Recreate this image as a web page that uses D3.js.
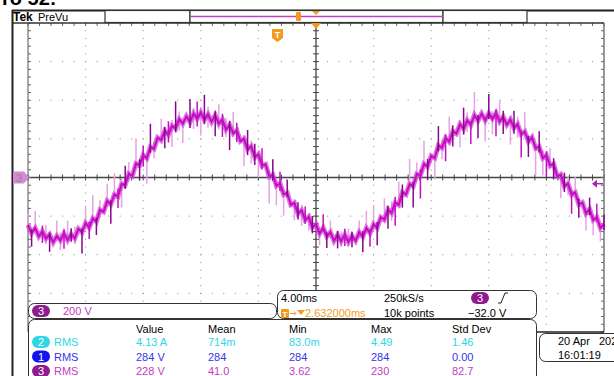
<html>

<head>
    <title>Tek PreVu</title>
    <style>
        body { margin: 0; background: #fff; }
        text { font-family: "Liberation Sans", Arial, sans-serif; }
    </style>
</head>

<body>
<div id="my_dataviz"></div>

<script src="https://d3js.org/d3.v7.min.js"></script>

<script>

    // ch3 samples (V), one every 0.25 ms
    var ch3Trace = [-246, -288, -262, -305, -279, -316, -295, -336, -303, -326, -289, -324, -293, -315, -266, -284,
        -236, -259, -212, -228, -168, -178, -122, -139, -88, -98, -34, -39, 20, 9, 72, 64,
        116, 99, 158, 148, 206, 194, 242, 221, 268, 254, 302, 279, 317, 286, 331, 304,
        337, 298, 327, 288, 323, 279, 300, 248, 272, 229, 244, 188, 200, 146, 162, 105,
        120, 62, 68, 5, 14, -43, -30, -88, -80, -141, -132, -188, -170, -220, -204, -259,
        -242, -290, -260, -305, -283, -328, -297, -330, -295, -334, -301, -328, -283, -307, -262, -288,
        -242, -261, -206, -218, -166, -184, -130, -141, -76, -88, -34, -45, 18, 11, 70, 56,
        112, 101, 166, 154, 204, 186, 240, 227, 276, 252, 296, 273, 323, 294, 331, 296,
        333, 304, 333, 290, 315, 273, 300, 256, 276, 223, 238, 186, 208, 152, 160, 101,
        116, 62, 70, 7, 14, -45, -32, -88, -78, -139, -130, -186, -164, -220, -206, -261, -242];
    var sampleStep = 0.25; // ms

    // noise spikes: [sample index, reach up (V), reach down (V), shade 0 light / 1 dark / 2 mid]
    var spikes = [[0, 60, 20, 0], [1, 20, 70, 1], [2, 90, 10, 0], [4, 30, 60, 2], [5, 70, 30, 0], [6, 10, 90, 1],
        [8, 80, 20, 0], [9, 40, 50, 0], [10, 20, 80, 2], [11, 100, 10, 0], [12, 30, 40, 1], [13, 60, 30, 0],
        [15, 20, 110, 1], [16, 90, 20, 0], [17, 30, 60, 2], [18, 120, 10, 0], [19, 20, 70, 1], [20, 50, 40, 0],
        [22, 90, 30, 0], [23, 20, 100, 1], [24, 110, 20, 0], [25, 40, 60, 2], [26, 30, 120, 0], [27, 100, 20, 1],
        [28, 60, 40, 0], [30, 130, 20, 0], [31, 30, 80, 1], [32, 50, 60, 2], [33, 20, 130, 0], [34, 120, 30, 1],
        [35, 40, 50, 0], [37, 110, 20, 0], [38, 20, 90, 1], [39, 70, 40, 2], [40, 30, 110, 0], [41, 140, 20, 1],
        [42, 40, 60, 0], [43, 20, 100, 0], [45, 120, 30, 1], [46, 30, 80, 0], [47, 90, 40, 2], [48, 20, 120, 0],
        [49, 130, 20, 1], [50, 40, 70, 0], [52, 20, 110, 1], [53, 100, 30, 0], [54, 30, 90, 2], [55, 60, 40, 0],
        [56, 20, 130, 1], [57, 110, 20, 0], [58, 40, 60, 2], [60, 20, 140, 0], [61, 100, 30, 1], [62, 30, 90, 0],
        [63, 70, 40, 1], [64, 20, 120, 0], [65, 90, 20, 2], [67, 30, 140, 0], [68, 80, 30, 1], [69, 20, 100, 0],
        [70, 60, 40, 2], [71, 30, 110, 0], [72, 70, 20, 1], [74, 20, 90, 0], [75, 60, 30, 1], [76, 30, 80, 0],
        [77, 70, 20, 2], [78, 20, 70, 0], [79, 60, 30, 1], [81, 30, 60, 0], [82, 70, 20, 2], [83, 20, 60, 1],
        [84, 60, 30, 0], [86, 20, 70, 1], [87, 50, 30, 0], [88, 30, 60, 2], [89, 70, 20, 0], [90, 20, 60, 1],
        [92, 60, 30, 0], [93, 30, 80, 1], [94, 90, 20, 0], [95, 20, 70, 2], [96, 100, 30, 0], [97, 30, 90, 1],
        [99, 110, 20, 0], [100, 20, 100, 1], [101, 60, 40, 0], [102, 30, 120, 2], [103, 120, 20, 0], [104, 40, 80, 1],
        [106, 130, 20, 0], [107, 20, 110, 1], [108, 60, 40, 0], [109, 30, 120, 2], [110, 120, 20, 0], [111, 40, 70, 1],
        [113, 20, 110, 0], [114, 100, 30, 1], [115, 40, 60, 0], [116, 20, 120, 2], [117, 130, 20, 0], [118, 30, 80, 1],
        [120, 20, 120, 0], [121, 110, 30, 1], [122, 40, 60, 0], [123, 20, 100, 2], [124, 120, 20, 0], [125, 30, 90, 1],
        [127, 20, 110, 0], [128, 100, 30, 1], [129, 40, 80, 0], [130, 20, 120, 2], [131, 110, 20, 0], [132, 30, 90, 1],
        [134, 20, 130, 0], [135, 90, 30, 1], [136, 40, 70, 0], [137, 20, 120, 2], [138, 100, 20, 0], [139, 30, 80, 1],
        [141, 20, 140, 0], [142, 80, 30, 1], [143, 40, 90, 0], [144, 20, 110, 2], [145, 90, 20, 0], [146, 30, 80, 1],
        [148, 20, 120, 0], [149, 70, 30, 1], [150, 40, 60, 0], [151, 20, 100, 2], [152, 80, 20, 0], [153, 30, 70, 1],
        [155, 20, 90, 0], [156, 60, 30, 1], [157, 30, 80, 0], [158, 70, 20, 2], [159, 20, 70, 0], [160, 50, 30, 1]];

    // readout table
    var measHeaders = ["Value", "Mean", "Min", "Max", "Std Dev"];
    var measChannels = ["2", "1", "3"];
    var measRows = [
        ["4.13 A", "714m", "83.0m", "4.49", "1.46"],
        ["284 V", "284", "284", "284", "0.00"],
        ["228 V", "41.0", "3.62", "230", "82.7"]
    ];
    var chanColors = { "1": "#3535e8", "2": "#2ed6e6", "3": "#c23cc2" };
    var pillColors = { "1": "#1414ee", "2": "#2ed6e6", "3": "#8e1c8e" };

    var svg = d3.select("#my_dataviz")
        .append("svg")
        .attr("width", 614)
        .attr("height", 376);

    svg.append("rect").attr("width", 614).attr("height", 376).attr("fill", "#fff");

    // cropped caption text above the screenshot
    svg.append("text")
        .attr("x", 2).attr("y", 5)
        .style("font-size", "20px").style("font-weight", "bold")
        .text("ro 52:");

    // graticule area
    var x = d3.scaleLinear().domain([0, 40]).range([28, 604]);
    var y = d3.scaleLinear().domain([-800, 800]).range([332, 23]);

    var grid = svg.append("g");
    var divT = d3.range(0, 41, 4);
    var divV = d3.range(-800, 801, 200);
    var minorT = d3.range(0, 40.01, 0.8);
    var minorV = d3.range(-800, 800.01, 40);

    // dotted division lines
    divT.slice(1, -1).forEach(function (t) {
        if (t == 20) return;
        grid.selectAll(null).data(minorV).enter().append("rect")
            .attr("x", x(t) - 0.5).attr("y", function (v) { return y(v) - 0.5; })
            .attr("width", 1).attr("height", 1).attr("fill", "#8a8a8a");
    });
    divV.slice(1, -1).forEach(function (v) {
        if (v == 0) return;
        grid.selectAll(null).data(minorT).enter().append("rect")
            .attr("x", function (t) { return x(t) - 0.5; }).attr("y", y(v) - 0.5)
            .attr("width", 1).attr("height", 1).attr("fill", "#8a8a8a");
    });

    // center cross with minor ticks
    grid.append("line").attr("x1", x(0)).attr("x2", x(40)).attr("y1", y(0)).attr("y2", y(0))
        .attr("stroke", "#444").attr("stroke-width", 1.3);
    grid.append("line").attr("x1", x(20)).attr("x2", x(20)).attr("y1", y(800)).attr("y2", y(-800))
        .attr("stroke", "#444").attr("stroke-width", 1.3);
    grid.selectAll(null).data(minorT).enter().append("line")
        .attr("x1", function (t) { return x(t); }).attr("x2", function (t) { return x(t); })
        .attr("y1", y(0) - 3).attr("y2", y(0) + 3).attr("stroke", "#444");
    grid.selectAll(null).data(minorV).enter().append("line")
        .attr("y1", function (v) { return y(v); }).attr("y2", function (v) { return y(v); })
        .attr("x1", x(20) - 3).attr("x2", x(20) + 3).attr("stroke", "#444");

    // border ticks
    grid.selectAll(null).data(minorT).enter().append("line")
        .attr("x1", function (t) { return x(t); }).attr("x2", function (t) { return x(t); })
        .attr("y1", y(800)).attr("y2", y(800) + 3).attr("stroke", "#666");
    grid.selectAll(null).data(minorV).enter().append("line")
        .attr("y1", function (v) { return y(v); }).attr("y2", function (v) { return y(v); })
        .attr("x1", x(40) - 3).attr("x2", x(40)).attr("stroke", "#666");
    grid.selectAll(null).data(minorV).enter().append("line")
        .attr("y1", function (v) { return y(v); }).attr("y2", function (v) { return y(v); })
        .attr("x1", x(0)).attr("x2", x(0) + 3).attr("stroke", "#666");

    // frame of graticule
    grid.append("line").attr("x1", 12).attr("x2", x(40)).attr("y1", 23).attr("y2", 23).attr("stroke", "#333").attr("stroke-width", 1.5);
    grid.append("line").attr("x1", x(0)).attr("x2", x(0)).attr("y1", 23).attr("y2", 332).attr("stroke", "#555");
    grid.append("line").attr("x1", x(40)).attr("x2", x(40)).attr("y1", 23).attr("y2", 332).attr("stroke", "#777").attr("stroke-width", 1.5);
    grid.append("line").attr("x1", 537).attr("x2", x(40)).attr("y1", 332).attr("y2", 332).attr("stroke", "#222").attr("stroke-width", 1.5);

    // ch3 trace
    var tOf = function (d, i) { return x(i * sampleStep); };
    var trace = svg.append("g");
    var shades = ["#e6a2e6", "#86088a", "#c010c0"];

    function drawSpikes(list) {
        trace.selectAll(null).data(list).enter().append("line")
            .attr("x1", function (s) { return x(s[0] * sampleStep); }).attr("x2", function (s) { return x(s[0] * sampleStep); })
            .attr("y1", function (s) { return y(ch3Trace[s[0]] + s[1]); }).attr("y2", function (s) { return y(ch3Trace[s[0]] - s[2]); })
            .attr("stroke", function (s) { return shades[s[3]]; }).attr("stroke-width", 1.5);
    }

    drawSpikes(spikes.filter(function (s) { return s[3] == 0; }));

    trace.append("path")
        .datum(ch3Trace)
        .attr("fill", "none")
        .attr("stroke", "#d24ad2")
        .attr("stroke-width", 5)
        .attr("stroke-opacity", 0.75)
        .attr("d", d3.line().x(tOf).y(function (d) { return y(d); }));

    trace.append("path")
        .datum(ch3Trace)
        .attr("fill", "none")
        .attr("stroke", "#c808c8")
        .attr("stroke-width", 2)
        .attr("d", d3.line().x(tOf).y(function (d) { return y(d); }));

    drawSpikes(spikes.filter(function (s) { return s[3] != 0; }));

    // outer frame and record bar
    svg.append("line").attr("x1", 12).attr("x2", 614).attr("y1", 10.5).attr("y2", 10.5).attr("stroke", "#222").attr("stroke-width", 2);
    svg.append("line").attr("x1", 12.5).attr("x2", 12.5).attr("y1", 10).attr("y2", 376).attr("stroke", "#222").attr("stroke-width", 2);
    [[105, 190], [190, 443], [443, 527]].forEach(function (b) {
        svg.append("rect").attr("x", b[0]).attr("y", 10.5).attr("width", b[1] - b[0]).attr("height", 12)
            .attr("fill", "#fff").attr("stroke", "#333").attr("stroke-width", 1.2);
    });
    svg.append("line").attr("x1", 190).attr("x2", 443).attr("y1", 16.5).attr("y2", 16.5).attr("stroke", "#c040c0").attr("stroke-width", 1.5);
    svg.append("rect").attr("x", 296).attr("y", 12).attr("width", 5).attr("height", 9).attr("rx", 1).attr("fill", "#f39a1e");
    svg.append("path").attr("d", "M312,11 L320,11 L316,15 Z").attr("fill", "#f39a1e");

    svg.append("text").attr("x", 13).attr("y", 21).style("font-size", "12px").style("font-weight", "bold").text("Tek");
    svg.append("text").attr("x", 38).attr("y", 21).style("font-size", "11px").text("PreVu");

    // trigger markers
    svg.append("path").attr("d", "M" + (x(20) - 5) + ",23 L" + (x(20) + 5) + ",23 L" + x(20) + ",29 Z").attr("fill", "#f39a1e");
    svg.append("path").attr("d", "M272,29 L283,29 L283,38 L277.5,42 L272,38 Z").attr("fill", "#f39a1e");
    svg.append("text").attr("x", 277.5).attr("y", 38).attr("text-anchor", "middle")
        .style("font-size", "9px").style("font-weight", "bold").attr("fill", "#fff").text("T");
    var trigY = y(-32);
    svg.append("path").attr("d", "M592," + trigY + " L597," + (trigY - 4) + " L597," + (trigY + 4) + " Z").attr("fill", "#b020b0");
    svg.append("line").attr("x1", 596).attr("x2", 603).attr("y1", trigY).attr("y2", trigY).attr("stroke", "#b020b0").attr("stroke-width", 1.5);

    // ch3 ground marker
    svg.append("path").attr("d", "M13," + (y(0) - 6) + " L24," + (y(0) - 6) + " L29," + y(0) + " L24," + (y(0) + 6) + " L13," + (y(0) + 6) + " Z")
        .attr("fill", "#d68ad6");
    svg.append("text").attr("x", 19).attr("y", y(0) + 4).attr("text-anchor", "middle")
        .style("font-size", "11px").attr("fill", "#8a8a8a").text("3");

    // helper for channel pills
    function pill(cx, cy, ch) {
        svg.append("rect").attr("x", cx - 9).attr("y", cy - 6).attr("width", 18).attr("height", 12).attr("rx", 6)
            .attr("fill", pillColors[ch]);
        svg.append("text").attr("x", cx).attr("y", cy + 4).attr("text-anchor", "middle")
            .style("font-size", "11px").attr("fill", "#fff").text(ch);
    }

    // ch3 scale box
    svg.append("rect").attr("x", 28.5).attr("y", 303.5).attr("width", 248).attr("height", 15).attr("rx", 6)
        .attr("fill", "#fff").attr("stroke", "#333");
    pill(41, 311, "3");
    svg.append("text").attr("x", 63).attr("y", 315).style("font-size", "11px").attr("fill", chanColors["3"]).text("200 V");

    // timebase / trigger box
    svg.append("rect").attr("x", 277.5).attr("y", 290.5).attr("width", 259).attr("height", 28).attr("rx", 6)
        .attr("fill", "#fff").attr("stroke", "#333");
    svg.append("text").attr("x", 281).attr("y", 302).style("font-size", "11px").text("4.00ms");
    svg.append("text").attr("x", 384).attr("y", 302).style("font-size", "11px").text("250kS/s");
    pill(480, 298, "3");
    svg.append("path").attr("d", "M498,303 L501,303 L505,293 L508,293").attr("fill", "none").attr("stroke", "#222");
    svg.append("rect").attr("x", 281).attr("y", 309).attr("width", 8).attr("height", 9).attr("rx", 1).attr("fill", "#f39a1e");
    svg.append("text").attr("x", 285).attr("y", 317).attr("text-anchor", "middle").style("font-size", "8px")
        .style("font-weight", "bold").attr("fill", "#fff").text("T");
    svg.append("path").attr("d", "M290,313.5 L296,313.5 M294,311.5 L296,313.5 L294,315.5").attr("fill", "none").attr("stroke", "#f39a1e");
    svg.append("path").attr("d", "M297,310 L305,310 L301,315 Z").attr("fill", "#f39a1e");
    svg.append("text").attr("x", 305).attr("y", 317).style("font-size", "11px").attr("fill", "#f39a1e").text("2.632000ms");
    svg.append("text").attr("x", 384).attr("y", 317).style("font-size", "11px").text("10k points");
    svg.append("text").attr("x", 468).attr("y", 317).style("font-size", "11px").text("\u221232.0 V");

    // measurement table
    svg.append("rect").attr("x", 28.5).attr("y", 319.5).attr("width", 508).attr("height", 70).attr("rx", 6)
        .attr("fill", "#fff").attr("stroke", "#333");
    var colX = [136, 208, 289, 371, 452];
    svg.selectAll(null).data(measHeaders).enter().append("text")
        .attr("x", function (d, i) { return colX[i]; }).attr("y", 333)
        .style("font-size", "11px").text(function (d) { return d; });
    measRows.forEach(function (row, r) {
        var ch = measChannels[r];
        var ry = 346 + r * 14.5;
        pill(41, ry - 4, ch);
        svg.append("text").attr("x", 54).attr("y", ry).style("font-size", "11px").attr("fill", chanColors[ch]).text("RMS");
        svg.selectAll(null).data(row).enter().append("text")
            .attr("x", function (d, i) { return colX[i]; }).attr("y", ry)
            .style("font-size", "11px").attr("fill", chanColors[ch]).text(function (d) { return d; });
    });

    // date box (runs off the right edge, as on the screen grab)
    svg.append("rect").attr("x", 539.5).attr("y", 333.5).attr("width", 90).attr("height", 28).attr("rx", 6)
        .attr("fill", "#fff").attr("stroke", "#333");
    svg.append("text").attr("x", 558).attr("y", 345).style("font-size", "11px").text("20 Apr");
    svg.append("text").attr("x", 599).attr("y", 345).style("font-size", "11px").text("2020");
    svg.append("text").attr("x", 558).attr("y", 359).style("font-size", "11px").text("16:01:19");

</script>

</html>
